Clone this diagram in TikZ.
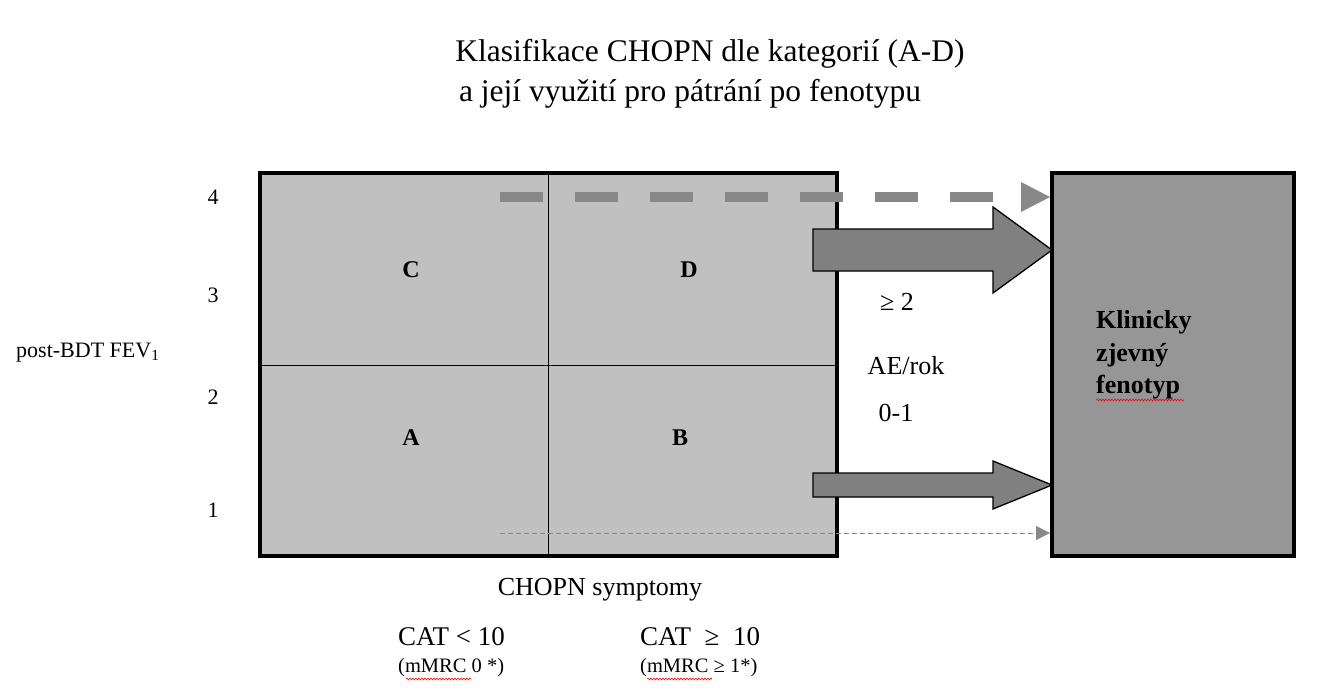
\documentclass[tikz,border=0pt]{standalone}
\usepackage{fontspec}
\setmainfont{Liberation Serif}
\usetikzlibrary{arrows.meta,decorations.pathmorphing}
\definecolor{boxlight}{HTML}{C0C0C0}
\definecolor{boxdark}{HTML}{969696}
\definecolor{arrowgray}{HTML}{808080}
\definecolor{dashgray}{HTML}{888888}
\tikzset{
  lbl/.style={inner sep=0pt, font=\fontsize{24}{28}\selectfont},
  cell/.style={inner sep=0pt, font=\fontsize{24}{28}\selectfont\bfseries},
  bigbox/.style={draw=black, line width=4pt},
  fatarrow/.style={draw=black, line width=1.3pt, fill=arrowgray},
  squig/.style={draw=red, line width=0.6pt, decorate, decoration={snake, amplitude=0.9pt, segment length=3pt}},
}
\begin{document}
\begin{tikzpicture}[x=1pt,y=-1pt]
\useasboundingbox (0,0) rectangle (1342,694);
% title
\node[lbl, font=\fontsize{31.5}{36}\selectfont] (t1) at (710,54) {Klasifikace CHOPN dle kategorií (A-D)};
\node[lbl, font=\fontsize{31.5}{36}\selectfont] (t2) at (690,94) {a její využití pro pátrání po fenotypu};
% main box
\fill[boxlight] (260,173) rectangle (837,556);
\draw[line width=1pt] (548,173) -- (548,556);
\draw[line width=1pt] (260,365) -- (837,365);
\draw[bigbox] (260,173) rectangle (837,556);
% right box
\draw[bigbox, fill=boxdark] (1052,173) rectangle (1294,556);
% cell labels
\node[cell] (C) at (411,270) {C};
\node[cell] (D) at (689,270) {D};
\node[cell] (A) at (411,438) {A};
\node[cell] (B) at (680,438) {B};
% axis labels
\node[lbl, font=\fontsize{22}{26}\selectfont] (y4) at (213,197) {4};
\node[lbl, font=\fontsize{22}{26}\selectfont] (y3) at (213,295) {3};
\node[lbl, font=\fontsize{22}{26}\selectfont] (y2) at (213,397) {2};
\node[lbl, font=\fontsize{22}{26}\selectfont] (y1) at (213,510) {1};
\node[lbl, anchor=west, font=\fontsize{22}{26}\selectfont] (fev) at (16,353) {post-BDT FEV\textsubscript{1}};
% dashed arrows
\coordinate (d1s) at (500,197);
\coordinate (d1e) at (1020,197);
\draw[dashgray, line width=10pt, dash pattern=on 43pt off 32pt] (d1s) -- (d1e);
\fill[dashgray] (1021,182) -- (1050,197) -- (1021,212) -- cycle;
\coordinate (d2s) at (500,533);
\coordinate (d2e) at (1050,533);
\draw[dashgray, line width=1pt, dash pattern=on 5pt off 3pt, -{Triangle[length=14pt,width=14pt]}] (d2s) -- (d2e);
% fat arrows
\draw[fatarrow] (813,229) -- (993,229) -- (993,207) -- (1052,250) -- (993,293) -- (993,271) -- (813,271) -- cycle;
\draw[fatarrow] (813,473) -- (993,473) -- (993,461) -- (1052,485) -- (993,509) -- (993,497) -- (813,497) -- cycle;
% AE labels
\node[lbl, font=\fontsize{26}{30}\selectfont] (ge2) at (897,302) {≥ 2};
\node[lbl, font=\fontsize{26}{30}\selectfont] (ae) at (906,366) {AE/rok};
\node[lbl, font=\fontsize{26}{30}\selectfont] (z1) at (896,413) {0-1};
% right box text
\node[anchor=base west, inner sep=0pt, font=\fontsize{26}{30}\selectfont\bfseries] (k1) at (1096,328) {Klinicky};
\node[anchor=base west, inner sep=0pt, font=\fontsize{26}{30}\selectfont\bfseries] (k2) at (1096,361) {zjevný};
\node[anchor=base west, inner sep=0pt, font=\fontsize{26}{30}\selectfont\bfseries] (k3) at (1096,393) {fenotyp};
\draw[squig] (1096,400) -- (1184,400);
% bottom labels
\node[lbl, font=\fontsize{26}{30}\selectfont] (sym) at (600,590) {CHOPN symptomy};
\node[lbl, anchor=west, font=\fontsize{27}{30}\selectfont] (cat1) at (398,637) {CAT < 10};
\node[lbl, anchor=west, font=\fontsize{20.5}{24}\selectfont] (mm1) at (398,668) {(mMRC 0 *)};
\node[lbl, anchor=west, font=\fontsize{27}{30}\selectfont] (cat2) at (640,637) {CAT~ ≥~ 10};
\node[lbl, anchor=west, font=\fontsize{20.5}{24}\selectfont] (mm2) at (640,668) {(mMRC ≥ 1*)};
\draw[squig] (406,679) -- (471,679);
\draw[squig] (647,679) -- (712,679);
\end{tikzpicture}
\end{document}
